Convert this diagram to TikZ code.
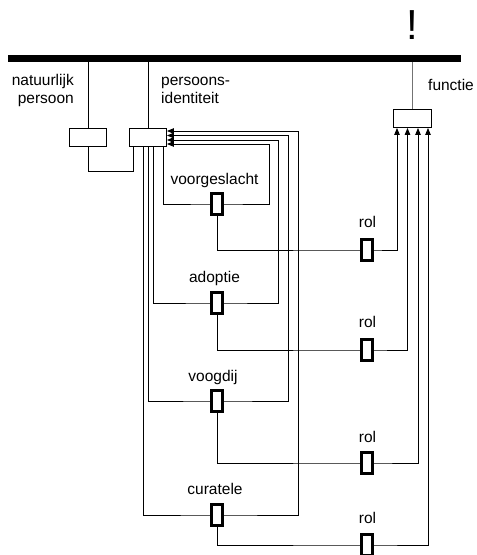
\documentclass[tikz,border=0pt]{standalone}
\usepackage{fontspec}
\setmainfont{Liberation Sans}
\usetikzlibrary{arrows.meta,backgrounds}
\begin{document}
\begin{tikzpicture}[x=1pt,y=-1pt,
  lbl/.style={font=\fontsize{15.5}{18}\selectfont, inner sep=0},
  box/.style={draw, fill=white, line width=0.9pt, minimum width=37pt, minimum height=18pt, inner sep=0},
  rbox/.style={draw, fill=white, line width=3.4pt, minimum width=10.5pt, minimum height=21.5pt, inner sep=0},
  ln/.style={line width=0.9pt},
  tip/.style={ln, -{Triangle[width=5.5pt,length=7pt]}},
]
\useasboundingbox (0,0) rectangle (477,555);
\clip (0,0) rectangle (477,555);
% bar
\node[fill, inner sep=0, minimum width=453pt, minimum height=7pt] (bar) at (234.5,58) {};
\node[font=\fontsize{42}{44}\selectfont, inner sep=0, anchor=base] (excl) at (412,39) {!};
% boxes
\node[box] (np) at (88,137.5) {};
\node[box] (pi) at (148,137.5) {};
\node[box, minimum width=38pt] (fn) at (412.5,118.5) {};
% relation boxes
\node[rbox] (r1) at (217,204) {};
\node[rbox] (r2) at (217,303) {};
\node[rbox] (r3) at (217,401) {};
\node[rbox] (r4) at (217,515) {};
% rol boxes
\node[rbox] (o1) at (367,250) {};
\node[rbox] (o2) at (367,350) {};
\node[rbox] (o3) at (367,463) {};
\node[rbox] (o4) at (367,545) {};
% labels
\node[lbl, anchor=base east] (np1) at (74,85) {natuurlijk};
\node[lbl, anchor=base east] (np2) at (74,103) {persoon};
\node[lbl, anchor=base west] (pi1) at (161,85) {persoons-};
\node[lbl, anchor=base west] (pi2) at (161,103) {identiteit};
\node[lbl, anchor=base west] (fnl) at (428,90) {functie};
\node[lbl, anchor=base] (t1) at (214.5,184) {voorgeslacht};
\node[lbl, anchor=base] (t2) at (214.5,282) {adoptie};
\node[lbl, anchor=base] (t3) at (213,381) {voogdij};
\node[lbl, anchor=base] (t4) at (215,494) {curatele};
\node[lbl, anchor=base] (l1) at (367.5,227) {rol};
\node[lbl, anchor=base] (l2) at (367.5,327) {rol};
\node[lbl, anchor=base] (l3) at (367.5,442) {rol};
\node[lbl, anchor=base] (l4) at (367.5,523) {rol};
\coordinate (k) at (133,171);
\begin{scope}[on background layer]
  \draw[ln] (bar.south -| np.north) -- (np.north);
  \draw[ln] (bar.south -| pi.north) -- (pi.north);
  \draw[ln, black!55] (bar.south -| fn.north) -- (fn.north);
  \draw[ln] (np.south) |- (k) -- ([xshift=-15pt]pi.south);
  % loops
  \draw[tip] ([xshift=15pt]pi.south) |- (r1.center) -| (269,144) -- ([yshift=-6.5pt]pi.east);
  \draw[tip] ([xshift=5pt]pi.south) |- (r2.center) -| (278,140) -- ([yshift=-2.5pt]pi.east);
  \draw[tip] (pi.south) |- (r3.center) -| (288,135.5) -- ([yshift=2pt]pi.east);
  \draw[tip] ([xshift=-5pt]pi.south) |- (r4.center) -| (298,131) -- ([yshift=6.5pt]pi.east);
  % rol connections
  \draw[tip] (r1.center) |- (o1.center) -| ([xshift=-15.5pt]fn.south);
  \draw[tip] (r2.center) |- (o2.center) -| ([xshift=-5pt]fn.south);
  \draw[tip] (r3.center) |- (o3.center) -| ([xshift=5.5pt]fn.south);
  \draw[tip] (r4.center) |- (o4.center) -| ([xshift=15.5pt]fn.south);
\end{scope}
\end{tikzpicture}
\end{document}
